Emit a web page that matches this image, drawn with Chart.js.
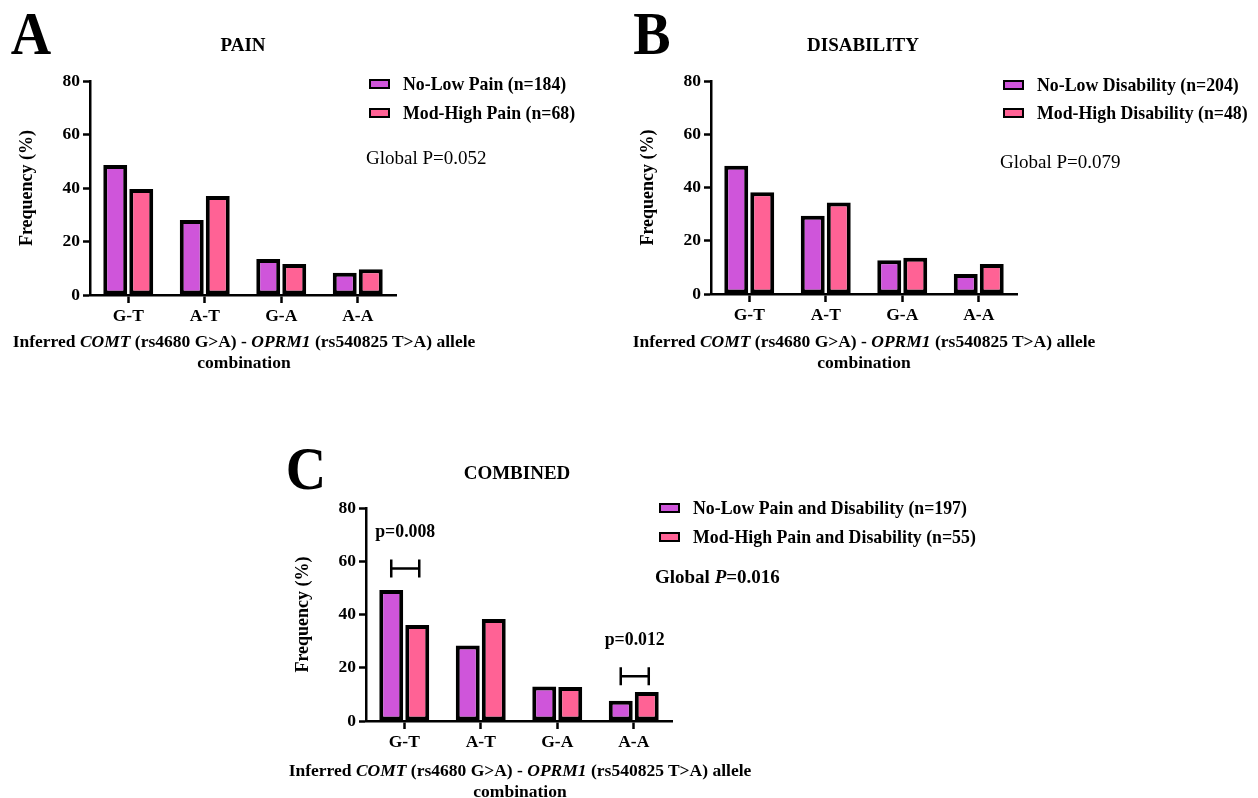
<!DOCTYPE html>
<html>
<head>
<meta charset="utf-8">
<script src="https://cdn.jsdelivr.net/npm/chart.js@4"></script>
<style>
  html, body { margin: 0; padding: 0; background: #fff; overflow: hidden; }
  body { width: 1258px; height: 798px; position: relative; font-family: 'Liberation Serif', 'Times New Roman', serif; color: #000; }
  canvas { position: absolute; }
  .txt { position: absolute; white-space: nowrap; transform: translate(-50%, -50%); font-weight: bold; z-index: 2; }
  .left { position: absolute; white-space: nowrap; transform: translateY(-50%); z-index: 2; }
  .letter { font-size: 56px; line-height: 1; transform: translate(-50%, -50%) scaleY(1.08); }
  .title { font-size: 19px; }
  .xtitle { font-size: 17.5px; line-height: 21px; text-align: center; }
  .leg { font-size: 17.8px; font-weight: bold; }
  .swatch { position: absolute; width: 21px; height: 10px; box-sizing: border-box; border: 2.5px solid #000; transform: translateY(-50%); z-index: 2; }
  .glob { font-size: 19px; }
</style>
</head>
<body>
<canvas id="painChart" width="620" height="400" style="left:0px;top:0px"></canvas>
<canvas id="disChart" width="620" height="400" style="left:621px;top:0px"></canvas>
<canvas id="combChart" width="620" height="340" style="left:276px;top:440px"></canvas>

<div class="txt letter" style="left:31px;top:33px">A</div>
<div class="txt title" style="left:243px;top:45px">PAIN</div>
<div class="txt letter" style="left:652px;top:33px">B</div>
<div class="txt title" style="left:863px;top:45px">DISABILITY</div>
<div class="txt letter" style="left:306px;top:468px">C</div>
<div class="txt title" style="left:517px;top:473px">COMBINED</div>

<div class="txt xtitle" style="left:244px;top:352px">Inferred <i>COMT</i> (rs4680 G&gt;A) - <i>OPRM1</i> (rs540825 T&gt;A) allele<br>combination</div>
<div class="txt xtitle" style="left:864px;top:352px">Inferred <i>COMT</i> (rs4680 G&gt;A) - <i>OPRM1</i> (rs540825 T&gt;A) allele<br>combination</div>
<div class="txt xtitle" style="left:520px;top:781px">Inferred <i>COMT</i> (rs4680 G&gt;A) - <i>OPRM1</i> (rs540825 T&gt;A) allele<br>combination</div>

<div class="left glob" style="left:366px;top:158px">Global P=0.052</div>
<div class="left glob" style="left:1000px;top:162px">Global P=0.079</div>
<div class="left glob" style="left:655px;top:577px;font-weight:bold">Global <i>P</i>=0.016</div>

<div id="legends"></div>

<script>
// allele combinations on the x axis
const combos = ['G-T', 'A-T', 'G-A', 'A-A'];

// A - pain
const painLabels = ['No-Low Pain (n=184)', 'Mod-High Pain (n=68)'];
const painLow = [48.6, 28.0, 13.5, 8.3];
const painHigh = [39.6, 37.0, 11.6, 9.6];

// B - disability
const disLabels = ['No-Low Disability (n=204)', 'Mod-High Disability (n=48)'];
const disLow = [48.2, 29.4, 12.7, 7.5];
const disHigh = [38.2, 34.4, 13.6, 11.3];

// C - combined
const combLabels = ['No-Low Pain and Disability (n=197)', 'Mod-High Pain and Disability (n=55)'];
const combLow = [49.2, 28.4, 13.0, 7.6];
const combHigh = [36.1, 38.3, 12.8, 10.9];

// pairwise tests shown in C (bracket height in % units)
const sigCats = ['G-T', 'A-A'];
const sigText = ['p=0.008', 'p=0.012'];
const sigLevel = [57.3, 16.8];

const yMin = 0;
const yMax = 80;
const yStep = 20;

const lowColor = '#CF55DA';
const highColor = '#FF6295';
const serif = "'Liberation Serif', 'Times New Roman', serif";

// brackets with p-values drawn on the combined chart
const sigPlugin = {
  id: 'sigBrackets',
  afterDatasetsDraw(chart) {
    const ctx = chart.ctx;
    const yScale = chart.scales.y;
    const m0 = chart.getDatasetMeta(0);
    const m1 = chart.getDatasetMeta(1);
    ctx.save();
    ctx.strokeStyle = '#000';
    ctx.lineWidth = 2.5;
    ctx.fillStyle = '#000';
    ctx.font = 'bold 17.8px ' + serif;
    ctx.textAlign = 'center';
    ctx.textBaseline = 'middle';
    sigCats.forEach((cat, k) => {
      const i = combos.indexOf(cat);
      const x0 = m0.data[i].x;
      const x1 = m1.data[i].x + 2;
      const y = yScale.getPixelForValue(sigLevel[k]);
      ctx.beginPath();
      ctx.moveTo(x0, y - 9); ctx.lineTo(x0, y + 9);
      ctx.moveTo(x0, y); ctx.lineTo(x1, y);
      ctx.moveTo(x1, y - 9); ctx.lineTo(x1, y + 9);
      ctx.stroke();
      ctx.fillText(sigText[k], (x0 + x1) / 2, y - 36);
    });
    ctx.restore();
  }
};

function buildChart(id, labels, low, high, area, plugins) {
  const ctx = document.getElementById(id).getContext('2d');
  const canvas = ctx.canvas;
  return new Chart(ctx, {
    type: 'bar',
    data: {
      labels: combos,
      datasets: [
        { label: labels[0], data: low, backgroundColor: lowColor, borderColor: '#000', borderWidth: 4, borderSkipped: false },
        { label: labels[1], data: high, backgroundColor: highColor, borderColor: '#000', borderWidth: 4, borderSkipped: false }
      ]
    },
    options: {
      responsive: false,
      animation: false,
      datasets: { bar: { categoryPercentage: 0.68, barPercentage: 0.92 } },
      layout: {
        padding: {
          left: 13,
          top: area.top,
          right: canvas.width - area.right,
          bottom: canvas.height - area.bottom - 40
        }
      },
      plugins: {
        legend: { display: false },
        tooltip: { enabled: false }
      },
      scales: {
        x: {
          grid: { display: true, offset: false, drawOnChartArea: false, tickLength: 8, tickWidth: 2.5, tickColor: '#000' },
          border: { color: '#000', width: 2.5 },
          ticks: { color: '#000', padding: 3, font: { family: serif, size: 17.5, weight: 'bold' } },
          afterFit(scale) { scale.height = 40; }
        },
        y: {
          min: yMin,
          max: yMax,
          ticks: { stepSize: yStep, color: '#000', padding: 3, font: { family: serif, size: 17.5, weight: 'bold' } },
          grid: { display: true, drawOnChartArea: false, tickLength: 7, tickWidth: 2.5, tickColor: '#000' },
          border: { color: '#000', width: 2.5 },
          title: { display: true, text: 'Frequency (%)', color: '#000', font: { family: serif, size: 18, weight: 'bold' } },
          afterFit(scale) { scale.width = 77; }
        }
      }
    },
    plugins: plugins || []
  });
}

const painChart = buildChart('painChart', painLabels, painLow, painHigh, { top: 81, right: 396, bottom: 295 });
const disChart = buildChart('disChart', disLabels, disLow, disHigh, { top: 81, right: 396, bottom: 294 });
const combChart = buildChart('combChart', combLabels, combLow, combHigh, { top: 68, right: 396, bottom: 281 }, [sigPlugin]);

// HTML legends built from the datasets
function addLegend(chart, swatchLeft, textLeft, rows) {
  const holder = document.getElementById('legends');
  chart.data.datasets.forEach((ds, i) => {
    const sw = document.createElement('div');
    sw.className = 'swatch';
    sw.style.left = swatchLeft + 'px';
    sw.style.top = rows[i] + 'px';
    sw.style.background = ds.backgroundColor;
    holder.appendChild(sw);
    const t = document.createElement('div');
    t.className = 'left leg';
    t.style.left = textLeft + 'px';
    t.style.top = rows[i] + 'px';
    t.textContent = ds.label;
    holder.appendChild(t);
  });
}

addLegend(painChart, 369, 403, [84, 113]);
addLegend(disChart, 1003, 1037, [85, 113]);
addLegend(combChart, 659, 693, [508, 537]);
</script>
</body>
</html>
